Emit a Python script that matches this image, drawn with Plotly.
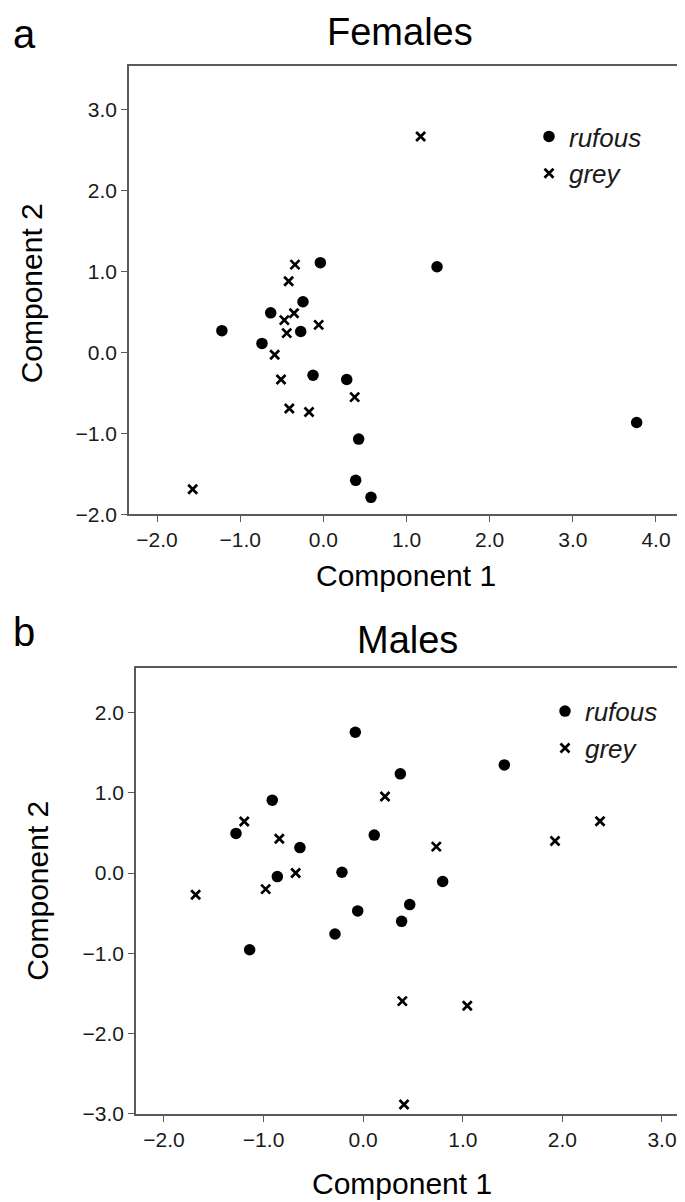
import plotly.graph_objects as go

# ---------------- data ----------------
# Females (panel a)
fem_rufous_x = [-1.22, -0.633, -0.738, -0.245, -0.272, -0.036, -0.124, 0.281, 0.425, 0.389, 0.573, 1.367, 3.768]
fem_rufous_y = [0.27, 0.49, 0.112, 0.627, 0.259, 1.11, -0.281, -0.334, -1.07, -1.58, -1.79, 1.06, -0.865]
fem_grey_x = [-1.571, -0.341, -0.417, -0.469, -0.353, -0.44, -0.056, -0.585, -0.509, -0.409, -0.172, 0.377, 1.17]
fem_grey_y = [-1.69, 1.086, 0.881, 0.40, 0.485, 0.239, 0.341, -0.027, -0.334, -0.693, -0.735, -0.551, 2.67]

# Males (panel b)
male_rufous_x = [-0.079, 0.373, -0.913, -1.277, -0.635, 0.111, -0.213, -0.862, -0.055, -0.283, -1.14, 0.386, 0.467, 1.417, 0.798]
male_rufous_y = [1.754, 1.236, 0.908, 0.494, 0.317, 0.473, 0.009, -0.044, -0.472, -0.759, -0.956, -0.602, -0.393, 1.347, -0.106]
male_grey_x = [-1.194, -0.842, -0.678, -0.979, -1.682, 0.219, 0.393, 0.41, 0.734, 1.926, 2.378, 1.045]
male_grey_y = [0.642, 0.427, 0.001, -0.201, -0.27, 0.953, -1.596, -2.885, 0.329, 0.399, 0.645, -1.654]

fem_xticks = [-2.0, -1.0, 0.0, 1.0, 2.0, 3.0, 4.0]
fem_yticks = [-2.0, -1.0, 0.0, 1.0, 2.0, 3.0]
male_xticks = [-2.0, -1.0, 0.0, 1.0, 2.0, 3.0]
male_yticks = [-3.0, -2.0, -1.0, 0.0, 1.0, 2.0]

panel_titles = ["Females", "Males"]
panel_letters = ["a", "b"]
x_title = "Component 1"
y_title = "Component 2"
series_names = ["rufous", "grey"]

# ---------------- figure ----------------
W, H = 685, 1202
FONT = "Liberation Sans, Arial, sans-serif"
FRAME = "#5a5a5a"
TXT = "#1a1a1a"

def px_x(p):
    return p / W

def px_y(p):
    return 1 - p / H

fig = go.Figure()

rufous_marker = dict(symbol="circle", size=11.5, color="black")
grey_marker = dict(symbol="x-thin-open", size=9, color="black", line=dict(width=2.7, color="black"))

fig.add_trace(go.Scatter(x=fem_rufous_x, y=fem_rufous_y, mode="markers", name=series_names[0],
                         marker=rufous_marker, xaxis="x", yaxis="y", legend="legend"))
fig.add_trace(go.Scatter(x=fem_grey_x, y=fem_grey_y, mode="markers", name=series_names[1],
                         marker=grey_marker, xaxis="x", yaxis="y", legend="legend"))
fig.add_trace(go.Scatter(x=male_rufous_x, y=male_rufous_y, mode="markers", name=series_names[0],
                         marker=rufous_marker, xaxis="x2", yaxis="y2", legend="legend2"))
fig.add_trace(go.Scatter(x=male_grey_x, y=male_grey_y, mode="markers", name=series_names[1],
                         marker=grey_marker, xaxis="x2", yaxis="y2", legend="legend2"))

axis_common = dict(showline=True, linecolor=FRAME, linewidth=1.5, mirror=True,
                   ticks="outside", ticklen=6, tickwidth=1.3, tickcolor=FRAME,
                   showgrid=False, zeroline=False, tickformat=".1f",
                   tickfont=dict(family=FONT, size=21, color=TXT))

fig.update_layout(
    width=W, height=H, autosize=False,
    margin=dict(l=0, r=0, t=0, b=0),
    paper_bgcolor="white", plot_bgcolor="white",
    xaxis=dict(domain=[px_x(121), px_x(675)], range=[-2.337, 4.325], tickvals=fem_xticks,
               anchor="y", **axis_common),
    yaxis=dict(domain=[px_y(511), px_y(59)], range=[-2.0, 3.535], tickvals=fem_yticks,
               anchor="x", **axis_common),
    xaxis2=dict(domain=[px_x(128), px_x(675)], range=[-2.281, 3.211], tickvals=male_xticks,
                anchor="y2", **axis_common),
    yaxis2=dict(domain=[px_y(1116), px_y(666)], range=[-3.0, 2.556], tickvals=male_yticks,
                anchor="x2", **axis_common),
    legend=dict(x=px_x(521), y=px_y(106), xanchor="left", yanchor="top",
                font=dict(family=FONT, size=26, color=TXT, style="italic"),
                bgcolor="rgba(0,0,0,0)", tracegroupgap=0, itemwidth=30),
    legend2=dict(x=px_x(537), y=px_y(686), xanchor="left", yanchor="top",
                 font=dict(family=FONT, size=26, color=TXT, style="italic"),
                 bgcolor="rgba(0,0,0,0)", tracegroupgap=0, itemwidth=30),
    showlegend=True,
)

ann = []
def add_text(text, x, y, size, angle=0, xanchor="center"):
    ann.append(dict(text=text, x=px_x(x), y=px_y(y), xref="paper", yref="paper",
                    showarrow=False, xanchor=xanchor, yanchor="middle", textangle=angle,
                    font=dict(family=FONT, size=size, color="black")))

add_text(panel_letters[0], 3, 26, 40, xanchor="left")
add_text(panel_titles[0], 392, 24, 38)
add_text(x_title, 398, 573, 30)
add_text(y_title, 23, 288, 30, angle=-90)

add_text(panel_letters[1], 3, 630, 40, xanchor="left")
add_text(panel_titles[1], 400, 638, 38)
add_text(x_title, 394, 1186, 30)
add_text(y_title, 30, 891, 30, angle=-90)

fig.update_layout(annotations=ann)

fig.write_html("out.html")
